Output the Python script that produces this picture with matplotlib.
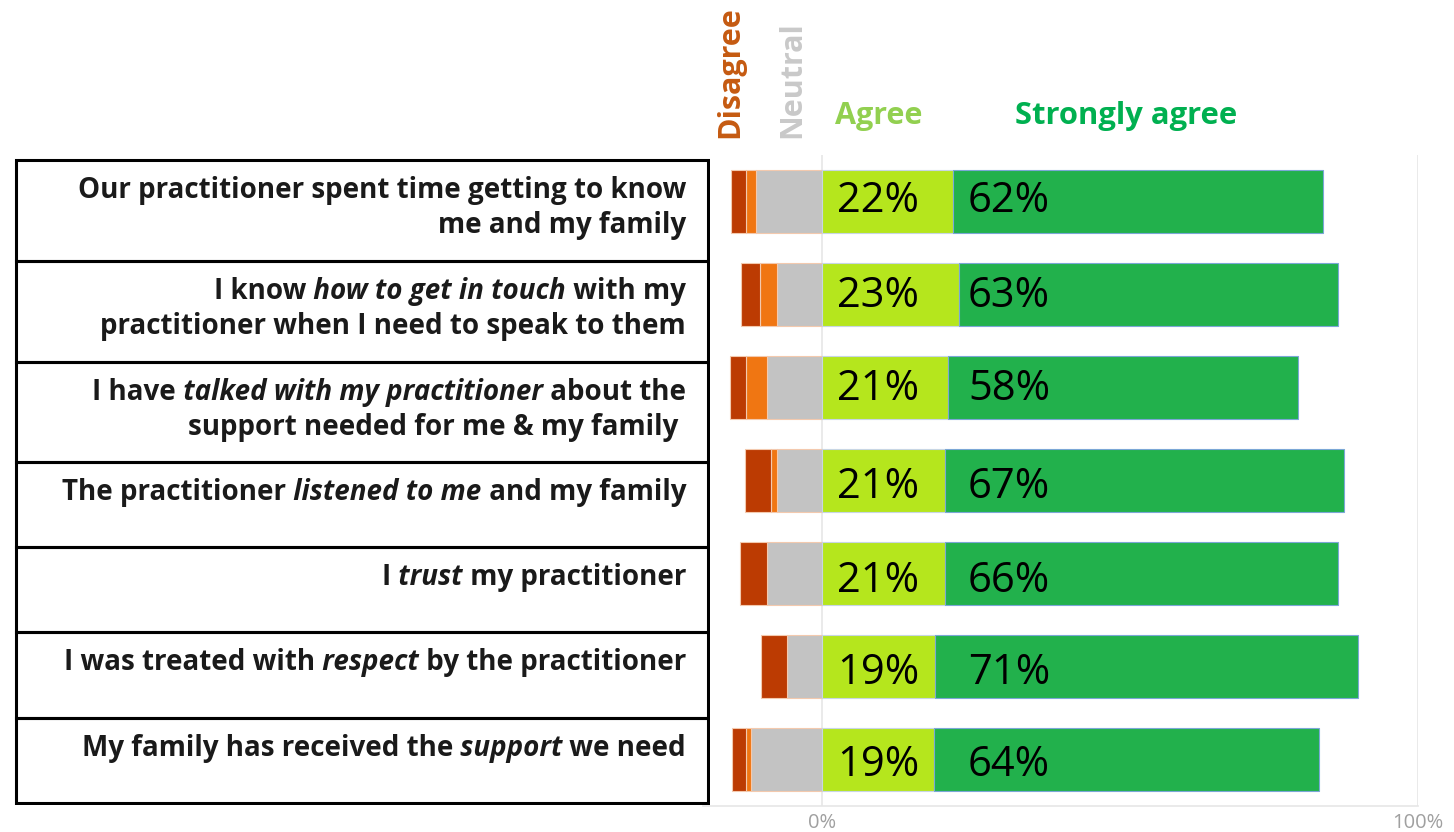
import matplotlib
matplotlib.use('Agg')
import matplotlib.pyplot as plt
from matplotlib.patches import Rectangle
import numpy as np

plt.rcParams['font.family'] = ['Open Sans', 'DejaVu Sans']

#-------------------------------------------------------------------------------
# data (percent of respondents), rows top to bottom

statements = [
    [[("Our practitioner spent time getting to know", False)],
     [("me and my family", False)]],
    [[("I know", False), (" how to get in touch", True), (" with my", False)],
     [("practitioner when I need to speak to them", False)]],
    [[("I have", False), (" talked with my practitioner", True), (" about the", False)],
     [("support needed for me & my family ", False)]],
    [[("The practitioner", False), (" listened to me", True), (" and my family", False)]],
    [[("I", False), (" trust", True), (" my practitioner", False)]],
    [[("I was treated with", False), (" respect", True), (" by the practitioner", False)]],
    [[("My family has received the", False), (" support", True), (" we need", False)]],
]

strongly_disagree = [2.6, 3.2, 2.6, 4.3, 4.4, 4.4, 2.4]
disagree = [1.7, 2.8, 3.6, 1.0, 0.0, 0.0, 0.8]
neutral = [11.0, 7.6, 9.2, 7.6, 9.3, 5.8, 11.9]
agree = [22.0, 23.0, 21.2, 20.6, 20.6, 19.0, 18.8]
strongly_agree = [62.0, 63.6, 58.6, 66.9, 66.0, 71.0, 64.6]

agree_labels = ['22%', '23%', '21%', '21%', '21%', '19%', '19%']
strongly_agree_labels = ['62%', '63%', '58%', '67%', '66%', '71%', '64%']

header_names = ['Disagree', 'Neutral', 'Agree', 'Strongly agree']

#-------------------------------------------------------------------------------
# style

W, H = 1454, 832
c_sd = '#BC3B02'
c_d = '#F07612'
c_n = '#C3C3C3'
c_a = '#B5E61D'
c_sa = '#22B14C'
header_colors = ['#C55A11', '#C9C9C9', '#92D050', '#00B050']

row_edges = [160, 261, 362, 462, 547, 632, 718, 803]   # label boxes, pixels


def px(x, y):
    return x / W, 1 - y / H


fig = plt.figure(figsize=(W / 100, H / 100), dpi=100)

#-------------------------------------------------------------------------------
# bar chart

ax = fig.add_axes([702.8 / W, 26 / H, 715.2 / W, 651 / H])
y = np.arange(len(agree))
h = 0.67

sd = np.array(strongly_disagree)
d = np.array(disagree)
n = np.array(neutral)
a = np.array(agree)
sa = np.array(strongly_agree)

ax.barh(y, n, left=-n, height=h, color=c_n, edgecolor='#F3C9AE', linewidth=0.8, zorder=3)
ax.barh(y, d, left=-n - d, height=h, color=c_d, edgecolor='#F3C9AE', linewidth=0.8, zorder=3)
ax.barh(y, sd, left=-n - d - sd, height=h, color=c_sd, edgecolor='#F3C9AE', linewidth=0.8, zorder=3)
ax.barh(y, a, left=0, height=h, color=c_a, edgecolor='#C8D6E4', linewidth=0.8, zorder=3)
ax.barh(y, sa, left=a, height=h, color=c_sa, edgecolor='#7BA7D6', linewidth=0.8, zorder=3)

label_dy = [0, 1.5, 2, 6, 7, 6.5, 6]   # pixel nudges of the value labels
for i in range(len(agree)):
    ax.annotate(agree_labels[i], (9.4, y[i]), xytext=(0, -label_dy[i]),
                textcoords='offset pixels', ha='center', va='center',
                fontsize=30, color='black', zorder=5)
    ax.annotate(strongly_agree_labels[i], (31.4, y[i]), xytext=(0, -label_dy[i]),
                textcoords='offset pixels', ha='center', va='center',
                fontsize=30, color='black', zorder=5)

ax.set_xlim(-20, 100)
ax.set_ylim(len(agree) - 0.5, -0.5)
ax.set_xticks([0, 100])
ax.set_xticklabels(['0%', '100%'])
ax.set_yticks([])
ax.tick_params(axis='x', length=0, colors='#A0A0A0', labelsize=14.5, pad=5)
ax.grid(axis='x', color='#E6E6E6', linewidth=1.2, zorder=0)
for side in ['top', 'left', 'right']:
    ax.spines[side].set_visible(False)
ax.spines['bottom'].set_color('#E6E6E6')
ax.spines['bottom'].set_linewidth(1.2)

#-------------------------------------------------------------------------------
# headers

x, yy = px(730, 138)
fig.text(x, yy, header_names[0], rotation=90, ha='center', va='bottom',
         fontsize=22, fontweight='bold', color=header_colors[0])
x, yy = px(792, 138)
fig.text(x, yy, header_names[1], rotation=90, ha='center', va='bottom',
         fontsize=22, fontweight='bold', color=header_colors[1])
x, yy = px(835, 124)
fig.text(x, yy, header_names[2], ha='left', va='baseline',
         fontsize=22, fontweight='bold', color=header_colors[2])
x, yy = px(1015, 124)
fig.text(x, yy, header_names[3], ha='left', va='baseline',
         fontsize=22.3, fontweight='bold', color=header_colors[3])

#-------------------------------------------------------------------------------
# statement boxes

axl = fig.add_axes([14 / W, (H - 805) / H, 696 / W, 647 / H])
axl.set_xlim(14, 710)
axl.set_ylim(805, 158)
axl.axis('off')


def draw_line(x, yb, segments, size=20):
    prev = None
    for text, italic in reversed(segments):
        style = 'italic' if italic else 'normal'
        if prev is None:
            prev = axl.text(x, yb, text, ha='right', va='baseline', fontsize=size,
                            fontweight='bold', fontstyle=style, color='#1A1A1A')
        else:
            prev = axl.annotate(text, xy=(0, 0), xycoords=prev, ha='right', va='bottom',
                                fontsize=size, fontweight='bold', fontstyle=style,
                                color='#1A1A1A')


for i, lines in enumerate(statements):
    top, bot = row_edges[i], row_edges[i + 1]
    axl.add_patch(Rectangle((16, top), 692, bot - top, fill=False,
                            edgecolor='black', linewidth=2.2))
    for j, segs in enumerate(lines):
        draw_line(686, top + 38 + 35 * j, segs)

fig.savefig('out.png', dpi=100)
